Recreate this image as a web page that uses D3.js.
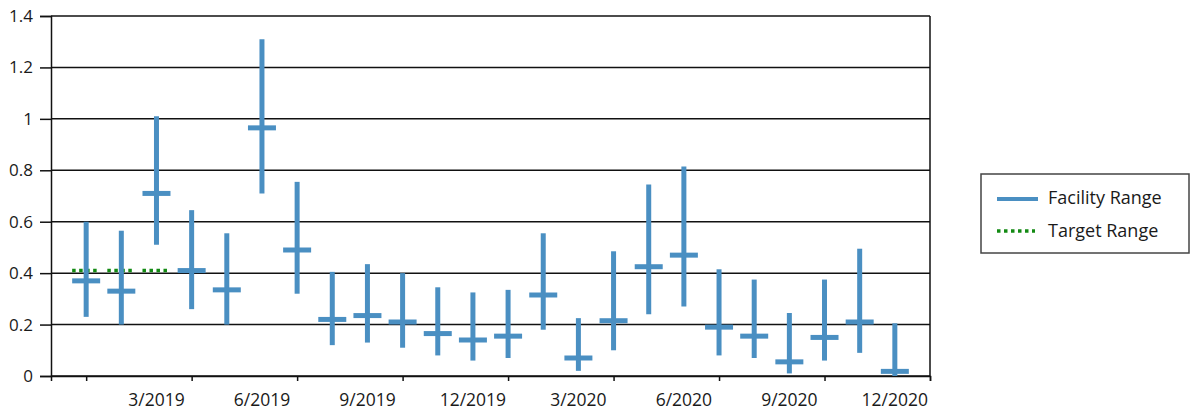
<!DOCTYPE html>
<html>
<head>
<meta charset="utf-8">
<script src="https://cdn.jsdelivr.net/npm/d3@7"></script>
<style>
  body { margin: 0; background: #fff; }
  text { font-family: "Open Sans", sans-serif; fill: #1a1a1a; }
</style>
</head>
<body>
<svg width="1191" height="415"></svg>
<script>
// monthly facility results, 1/2019 .. 12/2020
var months = ["1/2019","2/2019","3/2019","4/2019","5/2019","6/2019","7/2019","8/2019","9/2019","10/2019","11/2019","12/2019",
              "1/2020","2/2020","3/2020","4/2020","5/2020","6/2020","7/2020","8/2020","9/2020","10/2020","11/2020","12/2020"];
var lows  = [0.23, 0.20, 0.51, 0.26, 0.20, 0.71, 0.32, 0.12, 0.13, 0.11, 0.08, 0.06, 0.07, 0.18, 0.02, 0.10, 0.24, 0.27, 0.08, 0.07, 0.01, 0.06, 0.09, 0.00];
var mids  = [0.37, 0.33, 0.71, 0.41, 0.335, 0.965, 0.49, 0.22, 0.235, 0.21, 0.165, 0.14, 0.155, 0.315, 0.07, 0.215, 0.425, 0.47, 0.19, 0.155, 0.055, 0.15, 0.21, 0.018];
var highs = [0.60, 0.565, 1.01, 0.645, 0.555, 1.31, 0.755, 0.405, 0.435, 0.40, 0.345, 0.325, 0.335, 0.555, 0.225, 0.485, 0.745, 0.815, 0.415, 0.375, 0.245, 0.375, 0.495, 0.205];
var targets = [0.41, 0.41, 0.41];   // only the first three months have a target
var yTicks = [0, 0.2, 0.4, 0.6, 0.8, 1, 1.2, 1.4];

var blue = "#4a8fc2", green = "#138a13";

var svg = d3.select("svg"),
  margin = {top: 16, left: 51},
  width = 930 - margin.left,
  height = 376 - margin.top,
  g = svg.append("g").attr("transform", "translate(" + margin.left + "," + margin.top + ")");

// slot 0 is the left edge, months sit on slots 1..24, slot 25 is the right edge
var x = d3.scaleLinear().domain([0, 25]).range([0, width]);
var y = d3.scaleLinear().domain([0, 1.4]).range([height, 0]);

// horizontal grid
g.append("g")
  .selectAll("line")
  .data(yTicks)
  .enter().append("line")
  .attr("x1", 0).attr("x2", width)
  .attr("y1", function(d) { return y(d); })
  .attr("y2", function(d) { return y(d); })
  .attr("stroke", "#111").attr("stroke-width", 1.5);

// right border
g.append("line")
  .attr("x1", width).attr("x2", width).attr("y1", 0).attr("y2", height)
  .attr("stroke", "#111").attr("stroke-width", 1.5);

var yAxis = g.append("g")
  .call(d3.axisLeft(y).tickValues(yTicks).tickSize(11).tickPadding(7)
    .tickFormat(function(d) { return +d.toFixed(1); }));
yAxis.selectAll("text").style("font-size", "17px");

var xAxis = g.append("g")
  .attr("transform", "translate(0," + height + ")")
  .call(d3.axisBottom(x).tickValues(d3.range(1, 26, 3)).tickSize(5).tickFormat(""));

[yAxis, xAxis].forEach(function(a) {
  a.select(".domain").attr("stroke", "#111").attr("stroke-width", 1.5);
  a.selectAll(".tick line").attr("stroke", "#111").attr("stroke-width", 1.5);
});

// month labels every quarter, centred on their month
g.append("g")
  .selectAll("text")
  .data(months.map(function(m, i) { return {m: m, i: i + 1}; }).filter(function(d) { return d.i % 3 === 0; }))
  .enter().append("text")
  .attr("x", function(d) { return x(d.i); })
  .attr("y", height + 30)
  .attr("text-anchor", "middle")
  .style("font-size", "17.5px")
  .text(function(d) { return d.m; });

var capW = 28;

// target range (drawn under the bars)
g.append("g")
  .selectAll("line")
  .data(targets)
  .enter().append("line")
  .attr("x1", function(d, i) { return x(i + 1) - capW / 2; })
  .attr("x2", function(d, i) { return x(i + 1) + capW / 2; })
  .attr("y1", function(d) { return y(d); })
  .attr("y2", function(d) { return y(d); })
  .attr("stroke", green).attr("stroke-width", 3.5).attr("stroke-dasharray", "3.5 3.5");

var bar = g.selectAll(".bar")
  .data(months)
  .enter().append("g")
  .attr("class", "bar");

bar.append("line")
  .attr("x1", function(d, i) { return x(i + 1); })
  .attr("x2", function(d, i) { return x(i + 1); })
  .attr("y1", function(d, i) { return y(lows[i]); })
  .attr("y2", function(d, i) { return y(highs[i]); })
  .attr("stroke", blue).attr("stroke-width", 5);

bar.append("line")
  .attr("x1", function(d, i) { return x(i + 1) - capW / 2; })
  .attr("x2", function(d, i) { return x(i + 1) + capW / 2; })
  .attr("y1", function(d, i) { return y(mids[i]); })
  .attr("y2", function(d, i) { return y(mids[i]); })
  .attr("stroke", blue).attr("stroke-width", 5);

// legend
var legend = svg.append("g").attr("transform", "translate(981,174)");
legend.append("rect")
  .attr("width", 208).attr("height", 79)
  .attr("fill", "#fff").attr("stroke", "#444").attr("stroke-width", 1.5);

legend.append("line")
  .attr("x1", 16).attr("x2", 57).attr("y1", 25).attr("y2", 25)
  .attr("stroke", blue).attr("stroke-width", 4);
legend.append("text")
  .attr("x", 67).attr("y", 30)
  .style("font-size", "18px")
  .text("Facility Range");

legend.append("line")
  .attr("x1", 16).attr("x2", 54).attr("y1", 57).attr("y2", 57)
  .attr("stroke", green).attr("stroke-width", 3.5).attr("stroke-dasharray", "3.5 3.5");
legend.append("text")
  .attr("x", 67).attr("y", 63)
  .style("font-size", "18px")
  .text("Target Range");
</script>
</body>
</html>
